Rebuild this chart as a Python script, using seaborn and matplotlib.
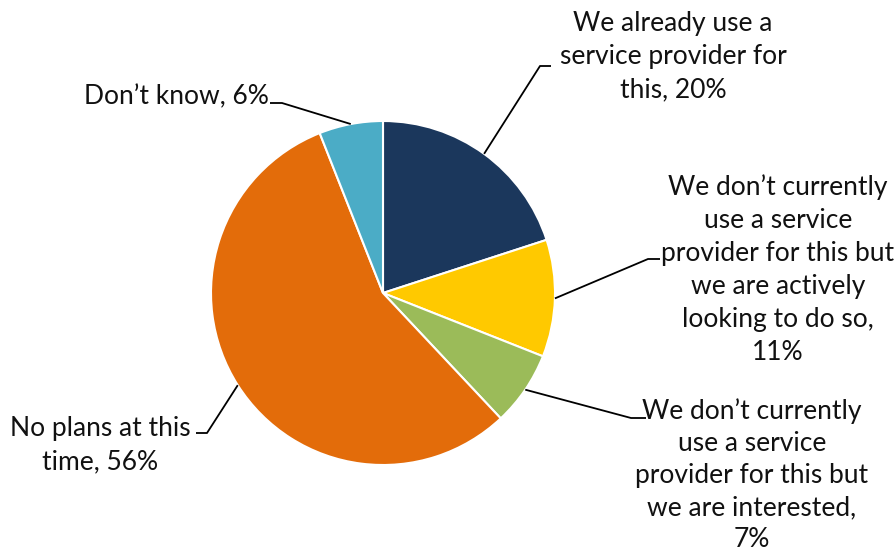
import numpy as np
import matplotlib
matplotlib.use("Agg")
import matplotlib.pyplot as plt
import seaborn as sns

sns.set_theme(style="white")
plt.rcParams['font.family'] = ['Lato', 'DejaVu Sans']

# Data
categories = [
    "We already use a\nservice provider for\nthis",
    "We don\u2019t currently\nuse a service\nprovider for this but\nwe are actively\nlooking to do so,",
    "We don\u2019t currently\nuse a service\nprovider for this but\nwe are interested,",
    "No plans at this\ntime",
    "Don\u2019t know",
]
values = [20, 11, 7, 56, 6]
label_fmt = ["{c}, {v}%", "{c}\n{v}%", "{c}\n{v}%", "{c}, {v}%", "{c}, {v}%"]
colors = ["#1B375C", "#FFC900", "#9BBB59", "#E36C0A", "#4BACC6"]

W, H = 896, 556
CX, CY, R = 383, 293, 172

fig = plt.figure(figsize=(W / 100, H / 100), dpi=100)
ax = fig.add_axes([0, 0, 1, 1])

def px(x, y):
    return ((x - CX) / R, (CY - y) / R)

wedges, _ = ax.pie(values, colors=colors, startangle=90, counterclock=False,
                   radius=1, center=(0, 0),
                   wedgeprops=dict(edgecolor="white", linewidth=1.5))

# label layout (pixel positions): elbow, end of horizontal, text anchor
layout = [
    dict(elbow=(540, 66), end=(551, 66), text=(673, 57), ls=1.4),
    dict(elbow=(648, 259), end=(660, 259), text=(778, 270), ls=1.4),
    dict(elbow=(631, 418), end=(646, 418), text=(752, 475), ls=1.36),
    dict(elbow=(207, 433), end=(196, 433), text=(100, 445), ls=1.4),
    dict(elbow=(282, 103), end=(270, 103), text=(176, 97), ls=1.4),
]

for w, cat, v, fmt, L in zip(wedges, categories, values, label_fmt, layout):
    mid = np.deg2rad((w.theta1 + w.theta2) / 2)
    sx, sy = np.cos(mid), np.sin(mid)
    ex, ey = px(*L["elbow"])
    nx, ny = px(*L["end"])
    ax.plot([sx, ex, nx], [sy, ey, ny], color="black", lw=1.3,
            solid_capstyle="butt", zorder=1)
    tx, ty = px(*L["text"])
    ax.text(tx, ty, fmt.format(c=cat, v=v), ha="center", va="center",
            fontsize=19, color="#111111", linespacing=L["ls"],
            multialignment="center")

ax.set_xlim(-CX / R, (W - CX) / R)
ax.set_ylim(-(H - CY) / R, CY / R)
ax.set_aspect("equal")
ax.axis("off")

fig.savefig("out.png", dpi=100, facecolor="white")
